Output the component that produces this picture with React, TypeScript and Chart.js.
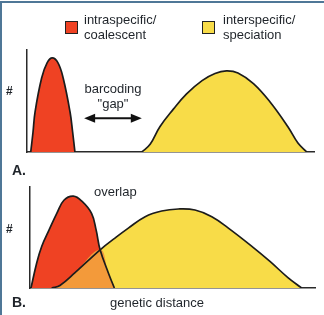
import React, { useEffect, useRef } from "react";
import { Chart, registerables } from "chart.js";

Chart.register(...registerables);

// Panel A (separated distributions), x = genetic distance (0-100), y = count (0-100)
const RED_A_X = [1.3, 2.1, 2.8, 5.1, 7.0, 8.8, 10.8, 12.6, 15.0, 15.9, 16.7];
const RED_A_Y = [0, 19.6, 39.2, 72.5, 87.3, 92.2, 87.3, 72.5, 39.2, 19.6, 0];
const YEL_A_X = [40.0, 42.9, 46.3, 51.0, 55.6, 61.0, 65.5, 69.5, 73.5, 78.9, 84.7, 90.9, 94.4, 97.5];
const YEL_A_Y = [0, 7.5, 24.8, 42.0, 57.0, 70.0, 77.0, 79.5, 77.5, 67.0, 49.0, 24.8, 8.8, 0];

// Panel B (overlapping distributions)
const RED_B_X = [0.35, 2.35, 4.1, 6.7, 9.4, 11.9, 15.2, 18.2, 21.6, 23.2, 24.6, 27.5, 29.6];
const RED_B_Y = [0, 24.8, 41.1, 57.5, 73.9, 86.9, 90.9, 86.0, 73.9, 57.5, 37.8, 14.9, 0];
const YEL_B_X = [7.6, 10.5, 15.8, 24.6, 29.8, 34.5, 40.4, 46.2, 52.0, 57.9, 63.8, 69.6, 77.2, 84.2, 90.5, 95.3];
const YEL_B_Y = [0, 2.5, 15.2, 37.8, 49.4, 59.3, 70.6, 76.2, 78.2, 77.2, 70.6, 59.3, 42.7, 26.3, 10.3, 0];
const CROSS_X = 24.6;

// "barcoding gap" arrow extent (data units of panel A)
const ARROW_X = [19.9, 40.0];
const ARROW_Y = 33;

const LEGEND_LABELS = [["intraspecific/", "coalescent"], ["interspecific/", "speciation"]];

const RED = "#ef4223";
const YELLOW = "#f8dc48";
const ORANGE = "#f39a3a";
const INK = "#1c1c1c";
const TEXT = "#1f242a";

const pts = (xs: number[], ys: number[]) => xs.map((x, i) => ({ x, y: ys[i] }));

const axis = (z: number) => ({
  type: "linear" as const,
  min: 0,
  max: 100,
  z,
  ticks: { display: false },
  grid: { display: false, drawTicks: false },
  border: { display: true, color: "#2a2a2a", width: 1.5 },
});

const makeOptions = (padding: any) => ({
  responsive: false,
  maintainAspectRatio: false,
  animation: false as const,
  layout: { padding },
  plugins: {
    legend: { display: false },
    tooltip: { enabled: false },
    filler: { drawTime: "beforeDatasetsDraw" },
  },
  elements: { point: { radius: 0 } },
  scales: { x: axis(1), y: axis(0) },
});

const curve = (data: any[], color: string, border = true) => ({
  data,
  backgroundColor: color,
  borderColor: border ? INK : "rgba(0,0,0,0)",
  borderWidth: border ? 1.7 : 0,
  fill: "origin",
  tension: 0.4,
  pointRadius: 0,
});

const arrowPlugin = {
  id: "gapArrow",
  afterDatasetsDraw(chart: any) {
    const { ctx, scales } = chart;
    const x1 = scales.x.getPixelForValue(ARROW_X[0]);
    const x2 = scales.x.getPixelForValue(ARROW_X[1]);
    const y = scales.y.getPixelForValue(ARROW_Y);
    const hl = 11;
    const hw = 4.5;
    ctx.save();
    ctx.strokeStyle = "#111";
    ctx.fillStyle = "#111";
    ctx.lineWidth = 2;
    ctx.beginPath();
    ctx.moveTo(x1 + hl - 2, y);
    ctx.lineTo(x2 - hl + 2, y);
    ctx.stroke();
    ctx.beginPath();
    ctx.moveTo(x1, y);
    ctx.lineTo(x1 + hl, y - hw);
    ctx.lineTo(x1 + hl, y + hw);
    ctx.closePath();
    ctx.fill();
    ctx.beginPath();
    ctx.moveTo(x2, y);
    ctx.lineTo(x2 - hl, y - hw);
    ctx.lineTo(x2 - hl, y + hw);
    ctx.closePath();
    ctx.fill();
    ctx.restore();
  },
};

const FONT = "'Liberation Sans', Arial, Helvetica, sans-serif";

const txt = (style: React.CSSProperties): React.CSSProperties => ({
  position: "absolute",
  fontFamily: FONT,
  fontSize: 13,
  lineHeight: "15px",
  color: TEXT,
  whiteSpace: "nowrap",
  ...style,
});

export default function App() {
  const refA = useRef<HTMLCanvasElement>(null);
  const refB = useRef<HTMLCanvasElement>(null);

  useEffect(() => {
    document.body.style.margin = "0";
    const redA = pts(RED_A_X, RED_A_Y);
    const yelA = pts(YEL_A_X, YEL_A_Y);
    const redB = pts(RED_B_X, RED_B_Y);
    const yelB = pts(YEL_B_X, YEL_B_Y);
    const overlap = [...yelB.filter((p) => p.x <= CROSS_X), ...redB.filter((p) => p.x > CROSS_X)];

    const chartA = new Chart(refA.current!, {
      type: "line",
      data: { datasets: [curve(redA, RED), curve(yelA, YELLOW)] as any },
      options: makeOptions({ left: 27, right: 10, top: 50, bottom: 8 }) as any,
      plugins: [arrowPlugin],
    });
    const chartB = new Chart(refB.current!, {
      type: "line",
      data: {
        datasets: [curve(overlap, ORANGE, false), curve(redB, RED), curve(yelB, YELLOW)] as any,
      },
      options: makeOptions({ left: 30, right: 9, top: 27, bottom: 27 }) as any,
    });
    return () => {
      chartA.destroy();
      chartB.destroy();
    };
  }, []);

  return (
    <div style={{ position: "absolute", left: 0, top: 0, width: 324, height: 315, background: "#fff", overflow: "hidden" }}>
      <canvas ref={refA} width={324} height={160} style={{ position: "absolute", left: 0, top: 0, width: 324, height: 160 }} />
      <canvas ref={refB} width={324} height={155} style={{ position: "absolute", left: 0, top: 160, width: 324, height: 155 }} />

      {/* frame */}
      <div style={{ position: "absolute", left: 0, top: 1, width: 324, height: 2, background: "#4f7797" }} />
      <div style={{ position: "absolute", left: 0, top: 1, width: 2, height: 314, background: "#4f7797" }} />

      {/* legend */}
      <div style={{ position: "absolute", left: 65, top: 21, width: 11, height: 11, background: RED, border: "1px solid #222" }} />
      <div style={txt({ left: 84, top: 12 })}>
        {LEGEND_LABELS[0][0]}<br />{LEGEND_LABELS[0][1]}
      </div>
      <div style={{ position: "absolute", left: 202, top: 21, width: 11, height: 11, background: YELLOW, border: "1px solid #222" }} />
      <div style={txt({ left: 223, top: 12 })}>
        {LEGEND_LABELS[1][0]}<br />{LEGEND_LABELS[1][1]}
      </div>

      {/* panel A labels */}
      <div style={txt({ left: 6, top: 84, fontSize: 12, fontWeight: "bold" })}>#</div>
      <div style={txt({ left: 72, width: 82, top: 81, textAlign: "center" })}>
        barcoding<br />"gap"
      </div>
      <div style={txt({ left: 12, top: 162, fontSize: 14, fontWeight: "bold", lineHeight: "16px" })}>A.</div>

      {/* panel B labels */}
      <div style={txt({ left: 6, top: 222, fontSize: 12, fontWeight: "bold" })}>#</div>
      <div style={txt({ left: 94, top: 184 })}>overlap</div>
      <div style={txt({ left: 110, top: 295 })}>genetic distance</div>
      <div style={txt({ left: 12, top: 294, fontSize: 14, fontWeight: "bold", lineHeight: "16px" })}>B.</div>
    </div>
  );
}
